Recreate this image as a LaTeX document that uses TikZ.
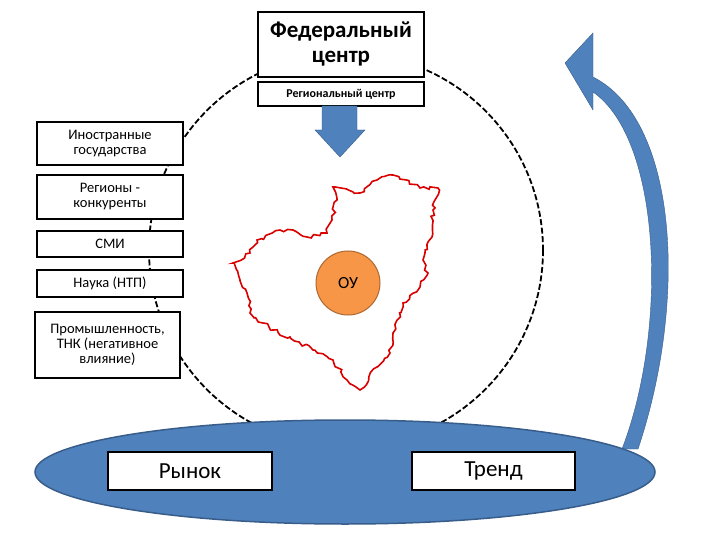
\documentclass[tikz,border=0pt]{standalone}
\usepackage{fontspec}
\setmainfont{Carlito}
\usetikzlibrary{decorations.pathmorphing,shapes.geometric}
\definecolor{bl}{HTML}{4F81BD}
\definecolor{bld}{HTML}{385D8A}
\definecolor{org}{HTML}{F79646}
\begin{document}
\begin{tikzpicture}[x=1pt,y=-1pt,
  box/.style={draw,line width=1.2pt,fill=white,inner sep=1pt,align=center,font=\fontsize{14.5}{15}\selectfont},
  bigbox/.style={draw,line width=1.4pt,fill=white,align=center}]
\useasboundingbox (0,0) rectangle (720,540);
\draw[line width=1.8pt,dash pattern=on 6pt off 2.5pt] (346,250) circle (197);
% left boxes
\node[box,minimum width=146,minimum height=43] (ig) at (110,143.5) {Иностранные\\государства};
\node[box,minimum width=146,minimum height=44] (rk) at (110,197) {Регионы -\\конкуренты};
\node[box,minimum width=146,minimum height=26] (smi) at (110,244) {СМИ};
\node[box,minimum width=146,minimum height=27] (nauka) at (110,283.5) {Наука (НТП)};
\node[box,minimum width=145,minimum height=66] (prom) at (107.5,345) {Промышленность,\\ТНК (негативное\\влияние)};
% top boxes
\node[bigbox,minimum width=166,minimum height=65,font=\bfseries\fontsize{23}{25}\selectfont] (fc) at (341,44.5) {Федеральный\\центр};
\node[bigbox,minimum width=166,minimum height=24,inner sep=0pt,font=\bfseries\fontsize{12}{13}\selectfont] (rc) at (341,94) {Региональный центр};
\fill[bl,draw=bld] (322,106) -- (357,106) -- (357,130) -- (365,130) -- (340,157) -- (315,130) -- (322,130) -- cycle;
% region outline
\draw[red!85!black,line width=1.6pt,decorate,decoration={random steps,segment length=4pt,amplitude=2.2pt}]
 (333,187)--(360,193)--(377,180)--(393,175)--(420,188)--(438,188)--(433,210)--(432,237)--(423,260)--(428,273)--(420,287)--(403,303)--(393,333)--(390,353)--(377,367)--(360,390)--(347,380)--(333,360)--(313,350)--(290,337)--(273,330)--(263,323)--(250,313)--(247,293)--(240,280)--(233,263)--(250,253)--(257,240)--(280,230)--(293,230)--(307,237)--(327,233)--(332,220)--(337,200)--cycle;
\node[circle,fill=org,draw=org!70!black,line width=1pt,minimum size=64,font=\fontsize{17}{18}\selectfont] (ou) at (348,283) {ОУ};
% curved arrow
\fill[bl,draw=bld] (622,449) .. controls (668,330) and (662,140) .. (593,92)
  -- (593,110) -- (565,63) -- (593,33) -- (593,77)
  .. controls (678,120) and (688,300) .. (638,449) -- cycle;
% ellipse
\node[ellipse,fill=bl,draw=bld,line width=1.5pt,minimum width=620,minimum height=104] (mkt) at (345,472) {};
\node[bigbox,minimum width=164,minimum height=38,font=\fontsize{23}{25}\selectfont] (ry) at (190,471) {Рынок};
\node[bigbox,minimum width=163,minimum height=38,font=\fontsize{23}{25}\selectfont] (tr) at (493.5,471) {Тренд};
\end{tikzpicture}
\end{document}
